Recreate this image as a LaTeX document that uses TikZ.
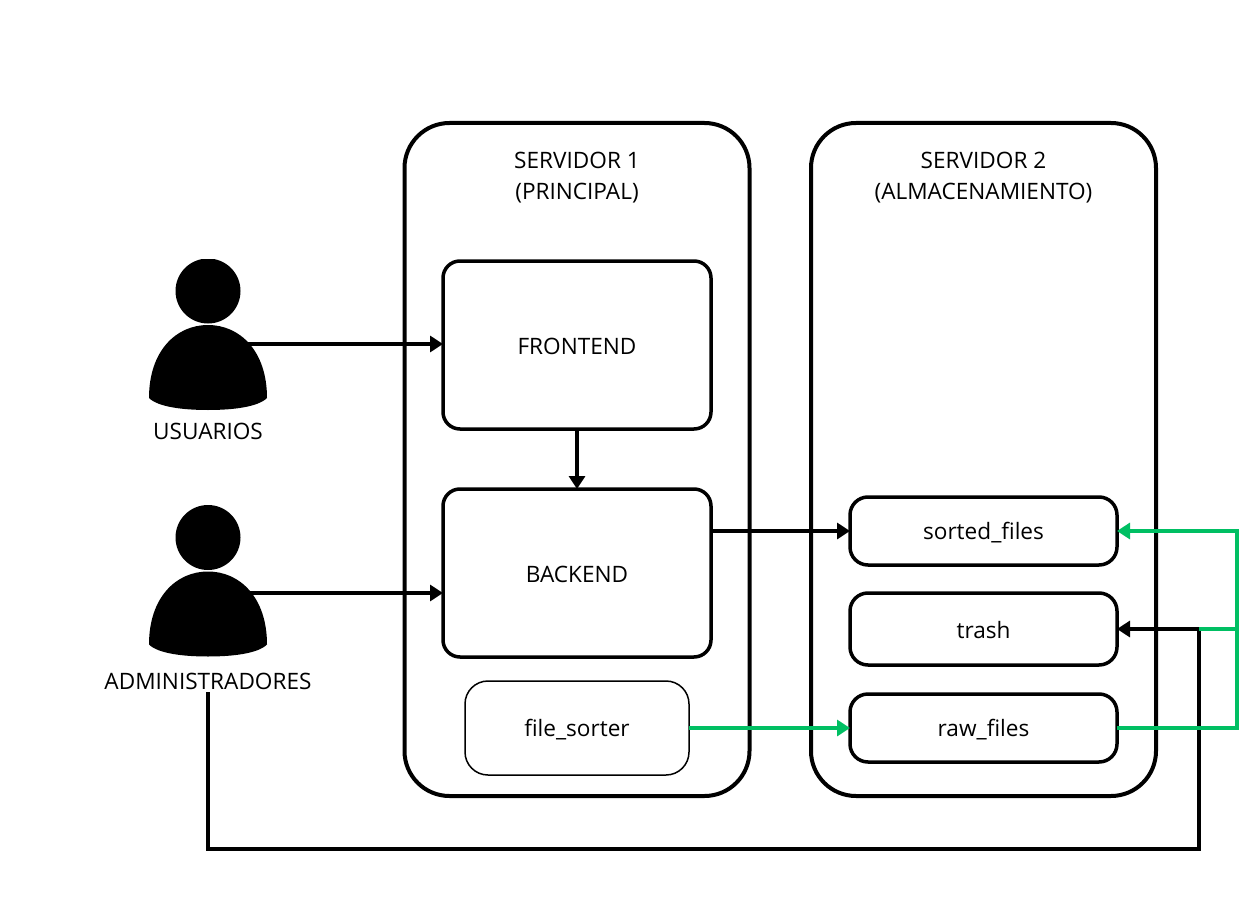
\documentclass[tikz,border=0pt]{standalone}
\usepackage{fontspec}
\setmainfont{Open Sans}
\usetikzlibrary{arrows.meta}
\definecolor{flowgreen}{HTML}{00BF63}
\tikzset{
  boxtext/.style={font=\fontsize{22.6}{26}\selectfont,text height=22pt,text depth=4pt},
  server/.style={draw=black,line width=4pt,rounded corners=45pt,minimum width=345pt,minimum height=673pt,inner sep=0pt,outer sep=0pt},
  appbox/.style={draw=black,line width=3.5pt,rounded corners=17pt,minimum width=268pt,minimum height=168pt,inner sep=0pt,outer sep=0pt,boxtext},
  softbox/.style={draw=black,line width=1.5pt,rounded corners=23pt,minimum width=224pt,minimum height=94pt,inner sep=0pt,outer sep=0pt,boxtext,text depth=6pt},
  folder/.style={draw=black,line width=3.5pt,rounded corners=18pt,minimum width=267pt,inner sep=0pt,outer sep=0pt,boxtext},
  caption/.style={inner sep=0pt,font=\fontsize{22.6}{31}\selectfont,align=center},
  blackflow/.style={draw=black,line width=3.5pt},
  greenflow/.style={draw=flowgreen,line width=3.5pt},
  tip/.style={-{Triangle[length=13pt,width=16pt]}},
}
\newcommand{\personshape}[2]{%
  \begin{scope}[shift={(#1,#2)}]
    \clip (-40,-32) rectangle (40,40);
    \fill[black] (0,0) circle (32.5);
  \end{scope}
  \fill[black,shift={(#1,#2)}] (-59,107) .. controls (-59,60) and (-32,34) .. (0,34)
     .. controls (32,34) and (59,60) .. (59,107)
     .. controls (50,116) and (25,119) .. (0,119)
     .. controls (-25,119) and (-50,116) .. (-59,107) -- cycle;
}
\begin{document}
\begin{tikzpicture}[x=1pt,y=-1pt]
\useasboundingbox (0,0) rectangle (1250,920);
\fill[white] (0,0) rectangle (1250,920);

\node[server] (srv1) at (577,459.5) {};
\node[server] (srv2) at (983.5,459.5) {};
\node[caption] (srv1title) at (577,177.5) {SERVIDOR 1\\(PRINCIPAL)};
\node[caption] (srv2title) at (983.5,177.5) {SERVIDOR 2\\(ALMACENAMIENTO)};

\node[appbox] (frontend) at (577,345) {FRONTEND};
\node[appbox] (backend) at (577,573) {BACKEND};
\node[softbox] (sorter) at (577,728) {file\_sorter};

\node[folder,minimum height=68pt,text depth=6pt] (sorted) at (983.5,531) {sorted\_files};
\node[folder,minimum height=72pt] (trash) at (983.5,629) {trash};
\node[folder,minimum height=68pt,text depth=6pt] (raw) at (983.5,728) {raw\_files};

\personshape{208}{291}
\personshape{208}{537.5}
\node[caption] (usuarios) at (208,431) {USUARIOS};
\node[caption] (admins) at (208,681) {ADMINISTRADORES};

\coordinate (userout) at (247,344);
\coordinate (adminout) at (250,593);
\coordinate (adminstart) at (208,694);
\coordinate (fork) at (1199,629);
\coordinate (greenrail) at (1237,629);

\draw[blackflow,tip] (userout) -- (frontend.west |- userout);
\draw[blackflow,tip] (adminout) -- (backend.west |- adminout);
\draw[blackflow,tip] (frontend.south) -- (backend.north);
\draw[blackflow,tip] (backend.east |- sorted.west) -- (sorted.west);
\draw[blackflow,tip] (fork) -- (trash.east);
\draw[blackflow,line cap=rect] (adminstart) -- (adminstart |- 0,849) -- (fork |- 0,849) -- (fork);

\draw[greenflow,tip] (sorter.east) -- (raw.west);
\draw[greenflow,tip,line cap=butt] (raw.east) -- (greenrail |- raw.east) -- (greenrail |- sorted.east) -- (sorted.east);
\draw[greenflow] (fork) -- (greenrail);
\end{tikzpicture}
\end{document}
